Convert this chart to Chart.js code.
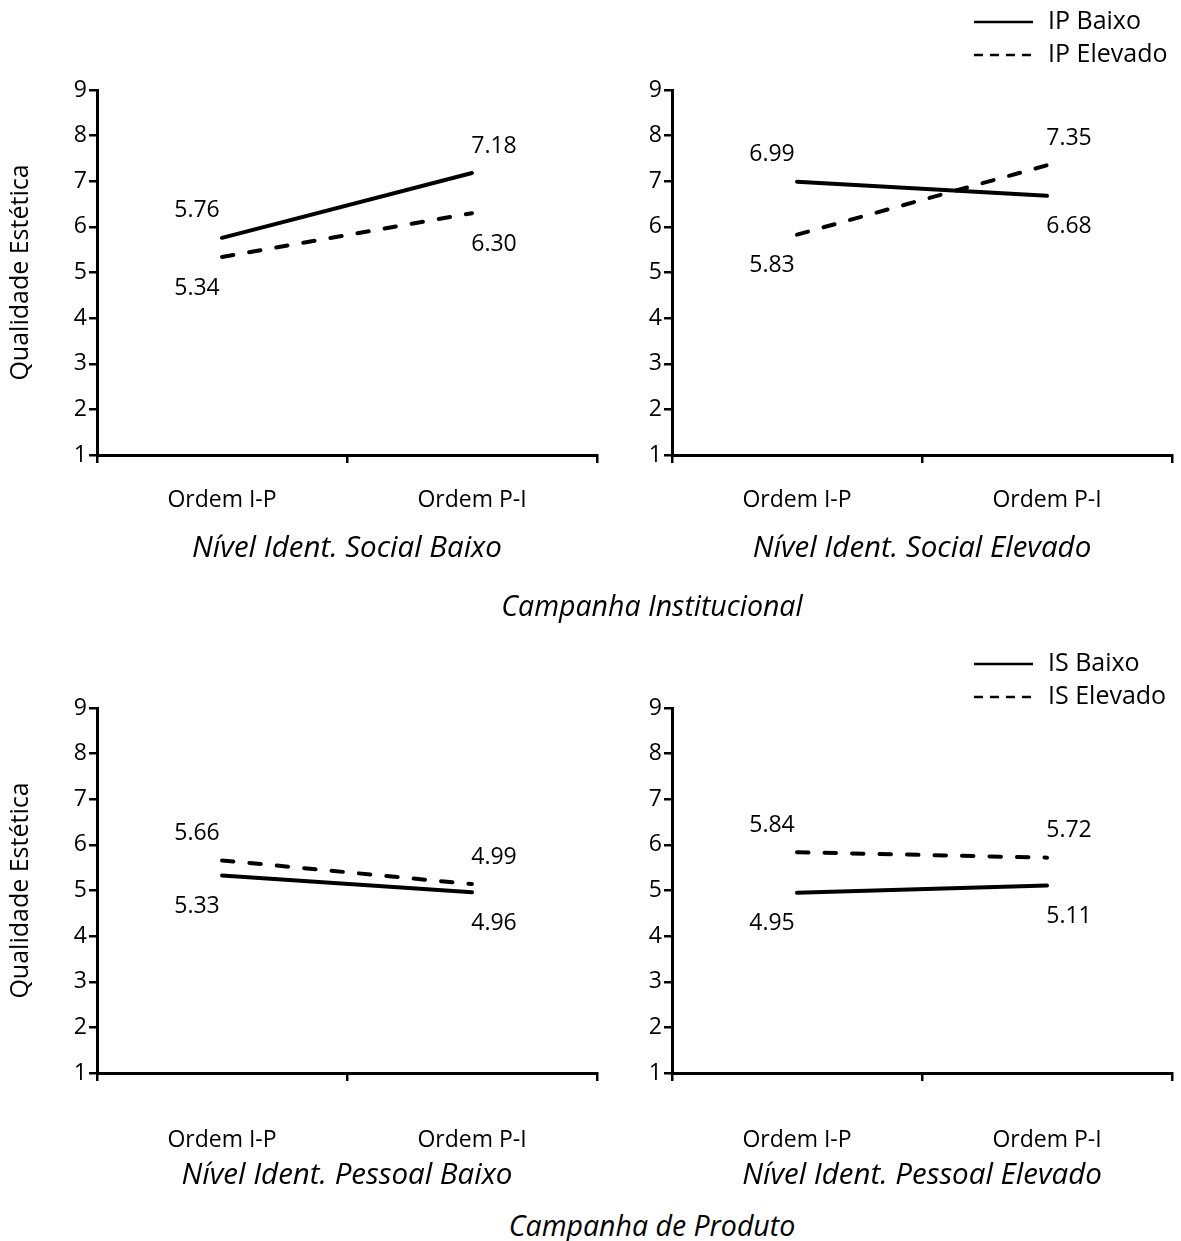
<!DOCTYPE html>
<html>
<head>
<meta charset="utf-8">
<script src="https://cdn.jsdelivr.net/npm/chart.js@4.4.1/dist/chart.umd.min.js"></script>
<style>
html,body{margin:0;padding:0;background:#fff;}
body{width:1181px;height:1241px;position:relative;overflow:hidden;}
canvas{position:absolute;display:block;}
.campaign{position:absolute;font-family:"Open Sans";font-style:italic;font-size:28.5px;color:#000;transform:translate(-50%,-50%);white-space:nowrap;line-height:1;}
</style>
</head>
<body>
<canvas id="c1" width="600" height="580" style="left:0;top:0"></canvas>
<canvas id="c2" width="581" height="580" style="left:600px;top:0"></canvas>
<canvas id="c3" width="600" height="580" style="left:0;top:620px"></canvas>
<canvas id="c4" width="581" height="580" style="left:600px;top:620px"></canvas>
<div class="campaign" id="t1" style="left:652px;top:605px"></div>
<div class="campaign" id="t2" style="left:652px;top:1225px"></div>
<script>
// ---- data ----
const categories = ['Ordem I-P', 'Ordem P-I'];
const yAxisTitle = 'Qualidade Estética';
const yMin = 1;
const yMax = 9;
const campaignTitles = ['Campanha Institucional', 'Campanha de Produto'];
const panelSubtitles = ['Nível Ident. Social Baixo', 'Nível Ident. Social Elevado', 'Nível Ident. Pessoal Baixo', 'Nível Ident. Pessoal Elevado'];
const seriesNamesInst = ['IP Baixo', 'IP Elevado'];
const seriesNamesProd = ['IS Baixo', 'IS Elevado'];

// Campanha Institucional
const socialBaixo_IPBaixo = [5.76, 7.18];
const socialBaixo_IPElevado = [5.34, 6.30];
const socialElevado_IPBaixo = [6.99, 6.68];
const socialElevado_IPElevado = [5.83, 7.35];
// Campanha de Produto
const pessoalBaixo_ISBaixo = [5.33, 4.96];
const pessoalBaixo_ISElevado = [5.66, 5.14];          // as drawn in the picture
const pessoalBaixo_ISElevado_text = ['5.66', '4.99']; // as printed in the picture
const pessoalElevado_ISBaixo = [4.95, 5.11];
const pessoalElevado_ISElevado = [5.84, 5.72];

const fmt = arr => arr.map(v => v.toFixed(2));

// ---- plugins ----
const valueLabels = {
  id: 'valueLabels',
  afterDatasetsDraw(chart, args, opts) {
    const ctx = chart.ctx;
    const dsets = chart.data.datasets;
    ctx.save();
    ctx.font = '23px "Open Sans"';
    ctx.fillStyle = '#000';
    ctx.textAlign = 'center';
    ctx.textBaseline = 'middle';
    chart.data.labels.forEach((_, j) => {
      const vals = dsets.map(d => d.data[j]);
      const top = Math.max(...vals);
      dsets.forEach((ds, i) => {
        const pt = chart.getDatasetMeta(i).data[j];
        const dx = j === 0 ? opts.dxStart : opts.dxEnd;
        const dy = ds.data[j] === top ? opts.dyAbove : opts.dyBelow;
        ctx.fillText(ds.valueText[j], pt.x + dx, pt.y + dy);
      });
    });
    ctx.restore();
  }
};

const sideLegend = {
  id: 'sideLegend',
  afterDraw(chart, args, opts) {
    if (!opts || !opts.show) return;
    const ctx = chart.ctx;
    ctx.save();
    ctx.font = '25px "Open Sans"';
    ctx.fillStyle = '#000';
    ctx.strokeStyle = '#000';
    ctx.lineWidth = 2.5;
    ctx.textAlign = 'left';
    ctx.textBaseline = 'middle';
    chart.data.datasets.forEach((ds, i) => {
      const y = opts.y + i * opts.rowGap;
      ctx.setLineDash(ds.borderDash && ds.borderDash.length ? [9, 7] : []);
      ctx.beginPath();
      ctx.moveTo(opts.x, y);
      ctx.lineTo(opts.x + opts.lineLen, y);
      ctx.stroke();
      ctx.setLineDash([]);
      ctx.fillText(ds.label, opts.x + opts.lineLen + opts.gap, y);
    });
    ctx.restore();
  }
};

function panel(id, cfg) {
  return new Chart(document.getElementById(id), {
    type: 'line',
    data: {
      labels: categories,
      datasets: [
        { label: cfg.names[0], data: cfg.solid, valueText: cfg.solidText || fmt(cfg.solid),
          borderColor: '#000', borderWidth: 4, borderDash: [], borderCapStyle: 'round',
          pointRadius: 0, tension: 0, fill: false },
        { label: cfg.names[1], data: cfg.dashed, valueText: cfg.dashedText || fmt(cfg.dashed),
          borderColor: '#000', borderWidth: 4, borderDash: [11.5, 16], borderCapStyle: 'round',
          pointRadius: 0, tension: 0, fill: false }
      ]
    },
    options: {
      responsive: false,
      animation: false,
      devicePixelRatio: 1,
      layout: { padding: { top: cfg.padTop, right: cfg.padRight, left: 0, bottom: 0 } },
      plugins: {
        legend: { display: false },
        tooltip: { enabled: false },
        valueLabels: { dxStart: -25, dxEnd: 22, dyAbove: -27, dyBelow: 31 },
        sideLegend: cfg.legend || { show: false }
      },
      scales: {
        x: {
          type: 'category',
          offset: true,
          grid: { display: true, drawOnChartArea: false, drawTicks: true, tickLength: 8,
                  color: '#000', lineWidth: 2.5, offset: true },
          border: { display: true, color: '#000', width: 3 },
          ticks: { color: '#000', font: { family: 'Open Sans', size: 23 }, padding: cfg.xTickPad,
                   maxRotation: 0, autoSkip: false },
          title: { display: true, text: cfg.subtitle, color: '#000',
                   font: { family: 'Open Sans', size: 29.5, style: 'italic' },
                   padding: { top: 0, bottom: cfg.subPad } },
          afterFit: s => { s.height = cfg.xAxisH; }
        },
        y: {
          min: yMin, max: yMax,
          ticks: { stepSize: 1, color: '#000', font: { family: 'Open Sans', size: 23 }, padding: 2 },
          grid: { display: true, drawOnChartArea: false, drawTicks: true, tickLength: 8,
                  color: '#000', lineWidth: 2.5 },
          border: { display: true, color: '#000', width: 3 },
          title: { display: !!cfg.yTitle, text: yAxisTitle, color: '#000',
                   font: { family: 'Open Sans', size: 25 }, padding: { top: 6, bottom: 0 } },
          afterFit: s => { s.width = cfg.yAxisW; }
        }
      }
    },
    plugins: [valueLabels, sideLegend]
  });
}

document.getElementById('t1').textContent = campaignTitles[0];
document.getElementById('t2').textContent = campaignTitles[1];

panel('c1', { names: seriesNamesInst, solid: socialBaixo_IPBaixo, dashed: socialBaixo_IPElevado,
  subtitle: panelSubtitles[0], yTitle: true, yAxisW: 97, padTop: 90, padRight: 3,
  xAxisH: 125, xTickPad: 24, subPad: 14 });
panel('c2', { names: seriesNamesInst, solid: socialElevado_IPBaixo, dashed: socialElevado_IPElevado,
  subtitle: panelSubtitles[1], yTitle: false, yAxisW: 72, padTop: 90, padRight: 9,
  xAxisH: 125, xTickPad: 24, subPad: 14,
  legend: { show: true, x: 374, y: 22, rowGap: 33, lineLen: 59, gap: 15 } });
panel('c3', { names: seriesNamesProd, solid: pessoalBaixo_ISBaixo, dashed: pessoalBaixo_ISElevado,
  dashedText: pessoalBaixo_ISElevado_text,
  subtitle: panelSubtitles[2], yTitle: true, yAxisW: 97, padTop: 88, padRight: 3,
  xAxisH: 127, xTickPad: 46, subPad: 7 });
panel('c4', { names: seriesNamesProd, solid: pessoalElevado_ISBaixo, dashed: pessoalElevado_ISElevado,
  subtitle: panelSubtitles[3], yTitle: false, yAxisW: 72, padTop: 88, padRight: 9,
  xAxisH: 127, xTickPad: 46, subPad: 7,
  legend: { show: true, x: 374, y: 44, rowGap: 33, lineLen: 59, gap: 15 } });
</script>
</body>
</html>
